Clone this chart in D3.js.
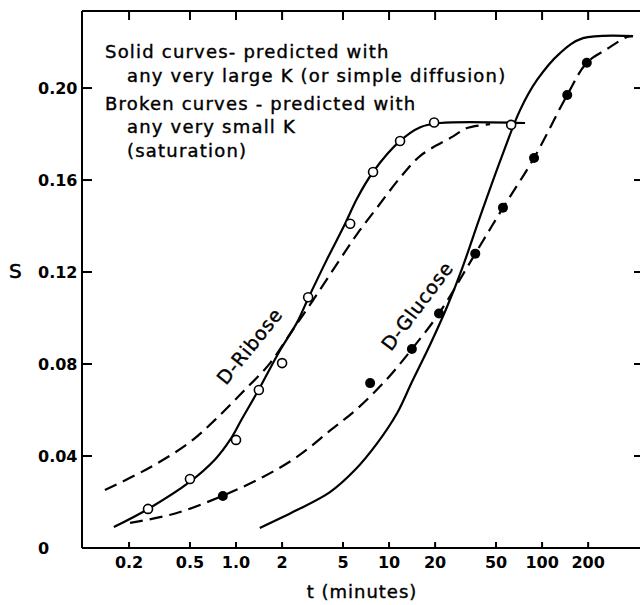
<!DOCTYPE html>
<html><head><meta charset="utf-8">
<script src="https://cdn.jsdelivr.net/npm/d3@7"></script>
<style>
html,body{margin:0;padding:0;background:#fff;}
svg text{font-family:"DejaVu Sans",sans-serif;fill:#000;}
</style></head>
<body><svg id="c" width="640" height="605"></svg>
<script>
// ---- data ----
const xTicks = [0.2, 0.5, 1.0, 2, 5, 10, 20, 50, 100, 200];
const xTickLabels = ["0.2", "0.5", "1.0", "2", "5", "10", "20", "50", "100", "200"];
const yTicks = [0, 0.04, 0.08, 0.12, 0.16, 0.20];
const yTickLabels = ["0", "0.04", "0.08", "0.12", "0.16", "0.20"];

// observed D-Ribose (open circles)
const riboseT = [0.266, 0.50, 1.0, 1.41, 2.0, 2.96, 5.57, 7.86, 11.8, 19.7, 62.8];
const riboseS = [0.017, 0.030, 0.047, 0.0687, 0.0804, 0.109, 0.141, 0.1635, 0.177, 0.185, 0.184];
// observed D-Glucose (filled circles)
const glucoseT = [0.82, 7.52, 14.1, 21.2, 36.6, 55.5, 88.6, 146, 196];
const glucoseS = [0.0226, 0.0717, 0.0865, 0.102, 0.128, 0.148, 0.1696, 0.197, 0.211];

// predicted curves
const riboseSolidT = [0.159, 0.270, 0.493, 0.729, 0.914, 1.09, 1.41, 1.94, 2.50, 2.96, 3.93, 5.16, 6.18, 7.86, 11.8, 16.0, 21.5, 77.4];
const riboseSolidS = [0.0091, 0.0172, 0.0285, 0.0385, 0.0470, 0.0560, 0.0690, 0.0860, 0.0980, 0.1085, 0.1255, 0.1410, 0.1520, 0.1635, 0.1770, 0.1830, 0.1848, 0.1848];
const riboseBrokenT = [0.139, 0.270, 0.493, 0.729, 1.09, 1.67, 2.25, 3.19, 4.57, 6.18, 8.35, 11.8, 16.0, 26.2, 32.3, 45.7];
const riboseBrokenS = [0.0252, 0.0348, 0.0457, 0.0557, 0.0674, 0.0804, 0.0930, 0.1078, 0.1235, 0.1365, 0.1480, 0.1610, 0.1705, 0.1790, 0.1826, 0.1843];
const glucoseSolidT = [1.43, 2.50, 4.11, 6.0, 8.35, 11.3, 14.1, 18.5, 23.9, 30.0, 39.3, 55.6, 71.8, 92.7, 131, 185, 393];
const glucoseSolidS = [0.0087, 0.0165, 0.0243, 0.0340, 0.0455, 0.0587, 0.0722, 0.0883, 0.1048, 0.1215, 0.1440, 0.1717, 0.1904, 0.2035, 0.2152, 0.2217, 0.2226];
const glucoseBrokenT = [0.203, 0.40, 0.81, 1.50, 2.50, 4.11, 6.18, 9.70, 14.1, 21.2, 36.6, 55.6, 88.6, 146, 196, 266, 359, 393];
const glucoseBrokenS = [0.0109, 0.0150, 0.0226, 0.0309, 0.0396, 0.0510, 0.0605, 0.0735, 0.0865, 0.1020, 0.1280, 0.1480, 0.1696, 0.1970, 0.2110, 0.2170, 0.2222, 0.2226];

const legendLines = [
  "Solid curves- predicted with",
  "any very large K (or simple diffusion)",
  "Broken curves - predicted with",
  "any very small K",
  "(saturation)"
];

// ---- drawing ----
const svg = d3.select("#c");
const L = 82, R = 641, T = 11, B = 548;
const x = d3.scaleLog().domain([0.0985, 443]).range([L, R]);
const y = d3.scaleLinear().domain([0, 0.2335]).range([B, T]);

const zip = (a, b) => a.map((v, i) => [v, b[i]]);
const line = d3.line().x(d => x(d[0])).y(d => y(d[1])).curve(d3.curveCatmullRom.alpha(0.5));

// frame
const g = svg.append("g").attr("stroke", "#000").attr("stroke-width", 2).attr("fill", "none");
g.append("line").attr("x1", L).attr("x2", L).attr("y1", T).attr("y2", B);
g.append("line").attr("x1", L).attr("x2", 640).attr("y1", B).attr("y2", B);
g.append("line").attr("x1", L).attr("x2", 640).attr("y1", T).attr("y2", T);

// ticks (inward)
xTicks.forEach(t => {
  g.append("line").attr("x1", x(t)).attr("x2", x(t)).attr("y1", B).attr("y2", B - 6);
  g.append("line").attr("x1", x(t)).attr("x2", x(t)).attr("y1", T).attr("y2", T + 9);
});
yTicks.forEach(v => {
  if (v === 0) return;
  g.append("line").attr("x1", L).attr("x2", L + 10).attr("y1", y(v)).attr("y2", y(v));
  g.append("line").attr("x1", 634).attr("x2", 641).attr("y1", y(v)).attr("y2", y(v));
});

// tick labels
svg.append("g").selectAll("text").data(xTicks).join("text")
  .attr("x", d => x(d)).attr("y", 568).attr("text-anchor", "middle")
  .attr("font-size", 16).attr("font-weight", "bold")
  .text((d, i) => xTickLabels[i]);
svg.append("g").selectAll("text").data(yTicks).join("text")
  .attr("x", 38).attr("y", d => y(d) + 6).attr("text-anchor", "start")
  .attr("font-size", 16).attr("font-weight", "bold")
  .text((d, i) => yTickLabels[i]);

// axis titles
svg.append("text").attr("x", 9).attr("y", 278).attr("font-size", 20)
  .attr("stroke", "#000").attr("stroke-width", 0.6).text("S");
svg.append("text").attr("x", 362).attr("y", 598).attr("text-anchor", "middle")
  .attr("font-size", 18).attr("letter-spacing", 1)
  .attr("stroke", "#000").attr("stroke-width", 0.4).text("t (minutes)");

// legend text
const legX = [105, 127, 105, 127, 127];
const legY = [58, 82, 110, 133, 157];
svg.append("g").selectAll("text").data(legendLines).join("text")
  .attr("x", (d, i) => legX[i]).attr("y", (d, i) => legY[i])
  .attr("font-size", 18).attr("letter-spacing", 1.2)
  .attr("stroke", "#000").attr("stroke-width", 0.4).text(d => d);

// curves
const curves = [
  [riboseSolidT, riboseSolidS, null],
  [riboseBrokenT, riboseBrokenS, "13,7"],
  [glucoseSolidT, glucoseSolidS, null],
  [glucoseBrokenT, glucoseBrokenS, "13,7"]
];
curves.forEach(([tt, ss, dash]) => {
  svg.append("path").datum(zip(tt, ss)).attr("d", line)
    .attr("fill", "none").attr("stroke", "#000").attr("stroke-width", 2.2)
    .attr("stroke-dasharray", dash);
});

// points
svg.append("g").selectAll("circle").data(zip(riboseT, riboseS)).join("circle")
  .attr("cx", d => x(d[0])).attr("cy", d => y(d[1])).attr("r", 4.5)
  .attr("fill", "#fff").attr("stroke", "#000").attr("stroke-width", 1.6);
svg.append("g").selectAll("circle").data(zip(glucoseT, glucoseS)).join("circle")
  .attr("cx", d => x(d[0])).attr("cy", d => y(d[1])).attr("r", 5)
  .attr("fill", "#000");

// rotated curve labels
svg.append("text").attr("transform", "translate(226,386) rotate(-51)")
  .attr("font-size", 19).attr("letter-spacing", 0.8)
  .attr("stroke", "#000").attr("stroke-width", 0.4).text("D-Ribose");
svg.append("text").attr("transform", "translate(391,352) rotate(-53)")
  .attr("font-size", 19).attr("letter-spacing", 0.8)
  .attr("stroke", "#000").attr("stroke-width", 0.4).text("D-Glucose");
</script></body></html>
